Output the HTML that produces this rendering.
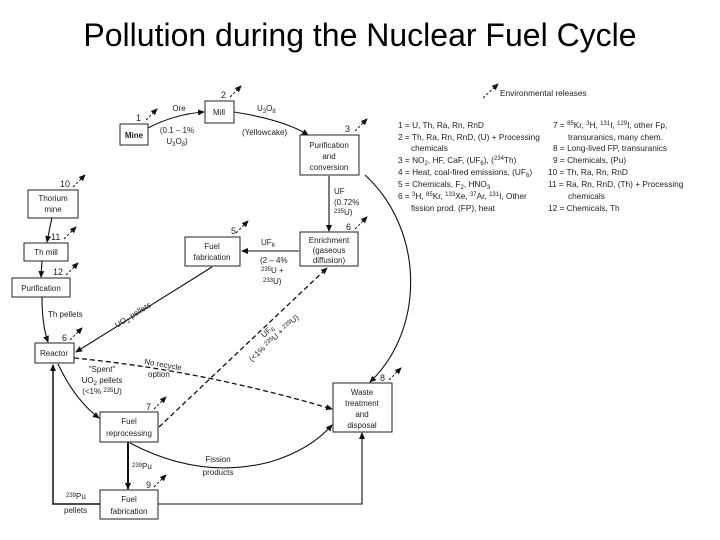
<!DOCTYPE html>
<html><head><meta charset="utf-8"><style>
html,body{margin:0;padding:0;background:#fff;}
svg{display:block;font-family:"Liberation Sans",sans-serif;}
.b{fill:#fff;stroke:#222;stroke-width:1;}
.t{font-size:8px;fill:#222;text-anchor:middle;}
.l{font-size:8px;fill:#222;}
.n{font-size:9px;fill:#222;}
.lg{font-size:8.3px;fill:#222;}
.ln{stroke:#111;stroke-width:1.1;fill:none;}
.ds{stroke:#111;stroke-width:1.3;fill:none;stroke-dasharray:5,3;}
.r{stroke:#111;stroke-width:1;stroke-dasharray:2.5,2;fill:none;}
</style></head><body>
<svg width="720" height="540" viewBox="0 0 720 540">
<defs>
<marker id="a" markerWidth="7" markerHeight="6" refX="6" refY="3" orient="auto" markerUnits="userSpaceOnUse"><path d="M0,0 L7,3 L0,6 z" fill="#111"/></marker>
</defs>
<text x="360" y="46" text-anchor="middle" font-size="32" fill="#000">Pollution during the Nuclear Fuel Cycle</text>

<!-- legend -->
<line x1="483" y1="98" x2="498" y2="84" class="r" marker-end="url(#a)"/>
<text x="500" y="96" class="lg">Environmental releases</text>
<g class="lg">
<text x="398" y="128">1 = U, Th, Ra, Rn, RnD</text>
<text x="398" y="140">2 = Th, Ra, Rn, RnD, (U) + Processing</text>
<text x="411" y="151">chemicals</text>
<text x="398" y="163">3 = NO<tspan font-size="6" dy="2">2</tspan><tspan dy="-2">, HF, CaF, (UF</tspan><tspan font-size="6" dy="2">6</tspan><tspan dy="-2">), (</tspan><tspan font-size="6" dy="-3">234</tspan><tspan dy="3">Th)</tspan></text>
<text x="398" y="175">4 = Heat, coal-fired emissions, (UF<tspan font-size="6" dy="2">6</tspan><tspan dy="-2">)</tspan></text>
<text x="398" y="187">5 = Chemicals, F<tspan font-size="6" dy="2">2</tspan><tspan dy="-2">, HNO</tspan><tspan font-size="6" dy="2">3</tspan></text>
<text x="398" y="199">6 = <tspan font-size="6" dy="-3">3</tspan><tspan dy="3">H, </tspan><tspan font-size="6" dy="-3">85</tspan><tspan dy="3">Kr, </tspan><tspan font-size="6" dy="-3">133</tspan><tspan dy="3">Xe, </tspan><tspan font-size="6" dy="-3">37</tspan><tspan dy="3">Ar, </tspan><tspan font-size="6" dy="-3">131</tspan><tspan dy="3">I, Other</tspan></text>
<text x="411" y="211">fission prod. (FP), heat</text>
<text x="553" y="128">7 = <tspan font-size="6" dy="-3">85</tspan><tspan dy="3">Kr, </tspan><tspan font-size="6" dy="-3">3</tspan><tspan dy="3">H, </tspan><tspan font-size="6" dy="-3">131</tspan><tspan dy="3">I, </tspan><tspan font-size="6" dy="-3">129</tspan><tspan dy="3">I, other Fp,</tspan></text>
<text x="568" y="140">transuranics, many chem.</text>
<text x="553" y="151">8 = Long-lived FP, transuranics</text>
<text x="553" y="163">9 = Chemicals, (Pu)</text>
<text x="548" y="175">10 = Th, Ra, Rn, RnD</text>
<text x="548" y="187">11 = Ra, Rn, RnD, (Th) + Processing</text>
<text x="568" y="199">chemicals</text>
<text x="548" y="211">12 = Chemicals, Th</text>
</g>

<!-- connectors -->
<path d="M148,128 Q175,114 204,112" class="ln" marker-end="url(#a)"/>
<path d="M234,112 Q285,120 308,135" class="ln" marker-end="url(#a)"/>
<line x1="329" y1="176" x2="329" y2="231" class="ln" marker-end="url(#a)"/>
<line x1="299" y1="251" x2="242" y2="251" class="ln" marker-end="url(#a)"/>
<line x1="212" y1="267" x2="76" y2="352" class="ln" marker-end="url(#a)"/>
<path d="M365,175 C425,230 425,330 370,382" class="ln" marker-end="url(#a)"/>
<line x1="52" y1="217" x2="47" y2="242" class="ln" marker-end="url(#a)"/>
<line x1="42" y1="261" x2="41" y2="277" class="ln" marker-end="url(#a)"/>
<path d="M42,297 Q42,325 48,342" class="ln" marker-end="url(#a)"/>
<path d="M58,364 Q75,400 99,418" class="ln" marker-end="url(#a)"/>
<line x1="128" y1="442" x2="128" y2="489" class="ln" style="stroke-width:2" marker-end="url(#a)"/>
<path d="M130,443 Q200,480 270,462 Q310,450 332,425" class="ln" marker-end="url(#a)"/>
<polyline points="100,504 53,504 53,365" class="ln" style="stroke-width:1.5" marker-end="url(#a)"/>
<polyline points="158,504 362,504 362,433" class="ln" marker-end="url(#a)"/>
<path d="M74,358 Q200,370 332,409" class="ds" marker-end="url(#a)"/>
<line x1="159" y1="427" x2="327" y2="268" class="ds" marker-end="url(#a)"/>

<!-- boxes -->
<rect x="120" y="124" width="28" height="21" class="b"/><text x="134" y="138" class="t" font-weight="bold">Mine</text>
<rect x="205" y="101" width="29" height="22" class="b"/><text x="219" y="115" class="t">Mill</text>
<rect x="300" y="135" width="59" height="40" class="b"/><text x="329" y="148" class="t">Purification</text><text x="329" y="159" class="t">and</text><text x="329" y="170" class="t">conversion</text>
<rect x="28" y="190" width="50" height="28" class="b"/><text x="53" y="201" class="t">Thorium</text><text x="53" y="212" class="t">mine</text>
<rect x="24" y="243" width="44" height="18" class="b"/><text x="46" y="255" class="t">Th mill</text>
<rect x="12" y="278" width="58" height="19" class="b"/><text x="41" y="291" class="t">Purification</text>
<rect x="185" y="237" width="55" height="29" class="b"/><text x="212" y="249" class="t">Fuel</text><text x="212" y="260" class="t">fabrication</text>
<rect x="300" y="232" width="58" height="34" class="b"/><text x="329" y="243" class="t">Enrichment</text><text x="329" y="253" class="t">(gaseous</text><text x="329" y="263" class="t">diffusion)</text>
<rect x="35" y="343" width="39" height="20" class="b"/><text x="54" y="356" class="t">Reactor</text>
<rect x="100" y="412" width="58" height="30" class="b"/><text x="129" y="424" class="t">Fuel</text><text x="129" y="436" class="t">reprocessing</text>
<rect x="333" y="383" width="59" height="49" class="b"/><text x="362" y="395" class="t">Waste</text><text x="362" y="406" class="t">treatment</text><text x="362" y="417" class="t">and</text><text x="362" y="428" class="t">disposal</text>
<rect x="100" y="490" width="58" height="29" class="b"/><text x="129" y="502" class="t">Fuel</text><text x="129" y="514" class="t">fabrication</text>

<!-- release arrows and numbers -->
<g>
<line x1="146" y1="120" x2="157" y2="109" class="r" marker-end="url(#a)"/><text x="136" y="121" class="n">1</text>
<line x1="230" y1="97" x2="241" y2="86" class="r" marker-end="url(#a)"/><text x="221" y="98" class="n">2</text>
<line x1="355" y1="131" x2="367" y2="119" class="r" marker-end="url(#a)"/><text x="345" y="132" class="n">3</text>
<line x1="73" y1="187" x2="85" y2="175" class="r" marker-end="url(#a)"/><text x="60" y="187" class="n">10</text>
<line x1="64" y1="239" x2="76" y2="227" class="r" marker-end="url(#a)"/><text x="51" y="240" class="n">11</text>
<line x1="66" y1="275" x2="78" y2="263" class="r" marker-end="url(#a)"/><text x="53" y="275" class="n">12</text>
<line x1="236" y1="233" x2="248" y2="221" class="r" marker-end="url(#a)"/><text x="231" y="234" class="n">5</text>
<line x1="355" y1="229" x2="367" y2="217" class="r" marker-end="url(#a)"/><text x="346" y="230" class="n">6</text>
<line x1="70" y1="340" x2="82" y2="328" class="r" marker-end="url(#a)"/><text x="62" y="341" class="n">6</text>
<line x1="154" y1="409" x2="166" y2="397" class="r" marker-end="url(#a)"/><text x="146" y="410" class="n">7</text>
<line x1="389" y1="380" x2="401" y2="368" class="r" marker-end="url(#a)"/><text x="380" y="381" class="n">8</text>
<line x1="154" y1="487" x2="166" y2="475" class="r" marker-end="url(#a)"/><text x="146" y="488" class="n">9</text>
</g>

<!-- labels -->
<text x="179" y="111" class="l" text-anchor="middle">Ore</text>
<text x="177" y="133" class="l" text-anchor="middle">(0.1 – 1%</text>
<text x="177" y="144" class="l" text-anchor="middle">U<tspan font-size="6" dy="2">3</tspan><tspan dy="-2">O</tspan><tspan font-size="6" dy="2">8</tspan><tspan dy="-2">)</tspan></text>
<text x="257" y="111" class="l">U<tspan font-size="6" dy="2">3</tspan><tspan dy="-2">O</tspan><tspan font-size="6" dy="2">8</tspan></text>
<text x="242" y="135" class="l">(Yellowcake)</text>
<text x="334" y="194" class="l">UF</text>
<text x="334" y="205" class="l">(0.72%</text>
<text x="334" y="215" class="l"><tspan font-size="6" dy="-2">235</tspan><tspan dy="2">U)</tspan></text>
<text x="268" y="245" class="l" text-anchor="middle">UF<tspan font-size="6" dy="2">6</tspan></text>
<text x="260" y="263" class="l">(2 – 4%</text>
<text x="261" y="273" class="l"><tspan font-size="6" dy="-2">235</tspan><tspan dy="2">U +</tspan></text>
<text x="263" y="284" class="l"><tspan font-size="6" dy="-2">233</tspan><tspan dy="2">U)</tspan></text>
<text x="48" y="317" class="l">Th pellets</text>
<text x="0" y="0" class="l" transform="translate(117,328) rotate(-32)">UO<tspan font-size="6" dy="2">2</tspan><tspan dy="-2"> pellets</tspan></text>
<text x="0" y="0" class="l" transform="translate(144,364) rotate(10)">No recycle</text>
<text x="148" y="377" class="l">option</text>
<text x="102" y="372" class="l" text-anchor="middle">"Spent"</text>
<text x="102" y="383" class="l" text-anchor="middle">UO<tspan font-size="6" dy="2">2</tspan><tspan dy="-2"> pellets</tspan></text>
<text x="102" y="394" class="l" text-anchor="middle">(&lt;1% <tspan font-size="6" dy="-2">235</tspan><tspan dy="2">U)</tspan></text>
<text x="0" y="0" class="l" transform="translate(264,338) rotate(-43)">UF<tspan font-size="6" dy="2">6</tspan></text>
<text x="0" y="0" class="l" transform="translate(252,362) rotate(-43)">(&lt;1% <tspan font-size="6" dy="-2">235</tspan><tspan dy="2">U + </tspan><tspan font-size="6" dy="-2">239</tspan><tspan dy="2">U)</tspan></text>
<text x="132" y="469" class="l"><tspan font-size="6" dy="-2">239</tspan><tspan dy="2">Pu</tspan></text>
<text x="218" y="462" class="l" text-anchor="middle">Fission</text>
<text x="218" y="475" class="l" text-anchor="middle">products</text>
<text x="66" y="499" class="l"><tspan font-size="6" dy="-2">239</tspan><tspan dy="2">Pu</tspan></text>
<text x="64" y="513" class="l">pellets</text>
</svg>
</body></html>
